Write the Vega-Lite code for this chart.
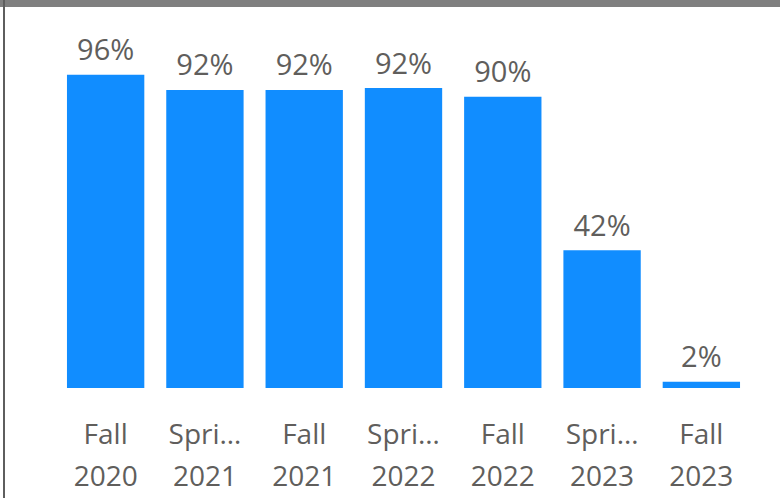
{
  "$schema": "https://vega.github.io/schema/vega-lite/v6.json",
  "autosize": "none",
  "width": 695,
  "height": 388,
  "padding": {"left": 56, "top": 0, "right": 29, "bottom": 110},
  "background": "white",
  "config": {"view": {"stroke": null}, "font": "Open Sans"},
  "datasets": {
    "terms": [
      {"term": "Fall 2020", "rate": 0.964},
      {"term": "Spring 2021", "rate": 0.917},
      {"term": "Fall 2021", "rate": 0.917},
      {"term": "Spring 2022", "rate": 0.923},
      {"term": "Fall 2022", "rate": 0.896},
      {"term": "Spring 2023", "rate": 0.424},
      {"term": "Fall 2023", "rate": 0.019}
    ],
    "frame": [{"part": "frame"}]
  },
  "layer": [
    {
      "data": {"name": "terms"},
      "encoding": {
        "x": {
          "field": "term", "type": "nominal", "sort": null,
          "scale": {"paddingInner": 0.221, "paddingOuter": 0.1105},
          "axis": {
            "title": null, "domain": false, "ticks": false, "grid": false,
            "labelAngle": 0, "labelFont": "Open Sans", "labelFontSize": 28,
            "labelColor": "#605E5C", "labelBaseline": "alphabetic",
            "labelPadding": 55, "labelLineHeight": 42, "labelLimit": 82,
            "labelExpr": "split(datum.label, ' ')"
          }
        },
        "y": {
          "field": "rate", "type": "quantitative",
          "scale": {"domain": [0, 1.19385], "nice": false, "zero": true},
          "axis": null
        }
      },
      "layer": [
        {"mark": {"type": "bar", "color": "#118DFF"}},
        {
          "mark": {"type": "text", "baseline": "alphabetic", "dy": -14.5, "font": "Open Sans", "fontSize": 29, "color": "#605E5C"},
          "encoding": {"text": {"field": "rate", "type": "quantitative", "format": ".0%"}}
        }
      ]
    },
    {
      "data": {"name": "frame"},
      "encoding": {
        "x": {"datum": -56, "type": "quantitative", "scale": {"domain": [0, 695], "nice": false, "zero": false}, "axis": null}
      },
      "layer": [
        {
          "mark": {"type": "rule", "color": "#7f7f7f", "strokeWidth": 7},
          "encoding": {
            "x2": {"datum": 724},
            "y": {"datum": 1.1831, "type": "quantitative"}
          }
        },
        {
          "mark": {"type": "rule", "color": "#5e5e5e", "strokeWidth": 2},
          "encoding": {
            "x": {"datum": -52, "type": "quantitative"},
            "y": {"datum": 1.19385, "type": "quantitative"},
            "y2": {"datum": -0.34}
          }
        }
      ]
    }
  ],
  "resolve": {"scale": {"x": "independent"}, "axis": {"x": "independent"}}
}
